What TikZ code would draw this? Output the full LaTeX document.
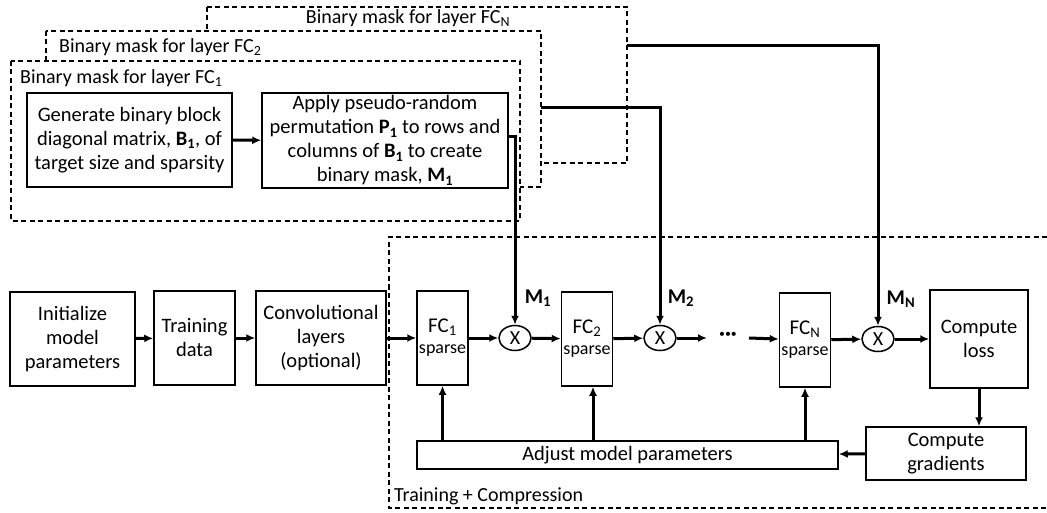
\documentclass[tikz,border=0pt]{standalone}
\usepackage{fontspec}
\setmainfont{Carlito}
\usetikzlibrary{arrows.meta}
\usetikzlibrary{shapes.geometric}
\usetikzlibrary{positioning}

\tikzset{
  blk/.style={draw,line width=1.5pt,align=center,inner sep=0pt,font=\fontsize{20.5}{24}\selectfont},
  fcbox/.style={blk,minimum width=51pt,minimum height=94pt},
  mult/.style={draw,ellipse,line width=1.5pt,minimum width=32pt,minimum height=25pt,inner sep=0pt,font=\fontsize{20}{24}\selectfont},
  conn/.style={line width=3pt,-{Latex[length=9pt,width=8pt]}},
  maskbox/.style={line width=1.4pt,dash pattern=on 5pt off 3.5pt,fill=white},
  lbl/.style={inner sep=0pt,font=\fontsize{20}{23}\selectfont},
  mlbl/.style={inner sep=0pt,font=\fontsize{21}{24}\selectfont\bfseries},
}

\begin{document}
\begin{tikzpicture}[x=1pt,y=-1pt]
  \useasboundingbox (0,0) rectangle (1047,513);

  % mask generation, one dashed box per layer (back to front)
  \draw[maskbox] (207,7) rectangle (627,163);
  \node[lbl] (lbln) at (408,18) {Binary mask for layer FC\textsubscript{N}};
  \draw[maskbox] (46,31) rectangle (541,187);
  \node[lbl,anchor=west] (lbl2) at (59,47) {Binary mask for layer FC\textsubscript{2}};
  \draw[maskbox] (11,61) rectangle (520,221);
  \node[lbl,anchor=west] (lbl1) at (20,78) {Binary mask for layer FC\textsubscript{1}};

  \node[blk,minimum width=205pt,minimum height=94pt] (gen) at (129.5,140)
    {Generate binary block\\diagonal matrix, \textbf{B\textsubscript{1}}, of\\target size and sparsity};
  \node[blk,minimum width=246pt,minimum height=95pt] (apply) at (385,140.5)
    {Apply pseudo-random\\permutation \textbf{P\textsubscript{1}} to rows and\\columns of \textbf{B\textsubscript{1}} to create\\binary mask, \textbf{M\textsubscript{1}}};
  \draw[conn] (gen) -- (apply);

  \coordinate (m2) at (541,108);
  \coordinate (mn) at (627,46);

  % training + compression
  \draw[maskbox,fill=none] (1047,237) -- (389,237) -- (389,508) -- (1047,508);
  \node[lbl,anchor=west] (tclbl) at (394,496) {Training + Compression};

  \node[blk,minimum width=125pt,minimum height=94pt] (init) at (72.5,339) {Initialize\\model\\parameters};
  \node[blk,minimum width=81pt,minimum height=94pt] (data) at (194.5,338) {Training\\data};
  \node[blk,minimum width=130pt,minimum height=94pt] (conv) at (321,338) {Convolutional\\layers\\(optional)};

  \node[fcbox] (fc1) at (442.5,338) {\fontsize{21}{22}\selectfont FC\textsubscript{1}\\[-3pt]\fontsize{18}{19}\selectfont sparse};
  \node[mult] (x1) at (515,338) {X};
  \node[fcbox] (fc2) at (587,339) {\fontsize{21}{22}\selectfont FC\textsubscript{2}\\[-3pt]\fontsize{18}{19}\selectfont sparse};
  \node[mult] (x2) at (660,338) {X};
  \node[inner sep=0pt,font=\fontsize{22}{22}\selectfont\bfseries] (dots) at (728,336) {\char"00B7\char"00B7\char"00B7};
  \coordinate (d1) at (707,338);
  \coordinate (d2) at (749,338);
  \node[fcbox] (fcn) at (805,340) {\fontsize{21}{22}\selectfont FC\textsubscript{N}\\[-3pt]\fontsize{18}{19}\selectfont sparse};
  \node[mult] (xn) at (878,339) {X};
  \node[blk,minimum width=98pt,minimum height=98pt] (loss) at (979,339) {Compute\\loss};
  \node[blk,minimum width=160pt,minimum height=53pt] (grad) at (946,453.5) {Compute\\gradients};
  \node[blk,minimum width=421pt,minimum height=28pt] (adjust) at (627.5,455) {Adjust model parameters};

  \node[mlbl] (m1lbl) at (538,298) {M\textsubscript{1}};
  \node[mlbl] (m2lbl) at (681,298) {M\textsubscript{2}};
  \node[mlbl] (mnlbl) at (901,299) {M\textsubscript{N}};

  \draw[conn] (init) -- (data);
  \draw[conn] (data) -- (conv);
  \draw[conn] (conv) -- (fc1);
  \draw[conn] (fc1) -- (x1);
  \draw[conn] (x1) -- (fc2);
  \draw[conn] (fc2) -- (x2);
  \draw[conn] (x2) -- (d1);
  \draw[conn] (d2) -- (fcn);
  \draw[conn] (fcn) -- (xn);
  \draw[conn] (xn) -- (loss);

  % masks into the multipliers
  \draw[conn] ([yshift=3.5pt]apply.east) -| (x1.north);
  \draw[conn] (m2) -| (x2.north);
  \draw[conn] (mn) -| (xn.north);

  % feedback
  \draw[conn] (loss) -- (loss.south |- grad.north);
  \draw[conn] (grad) -- (adjust);
  \draw[conn] (adjust.north -| fc1.south) -- (fc1.south);
  \draw[conn] ([xshift=6pt]adjust.north -| fc2.south) -- ([xshift=6pt]fc2.south);
  \draw[conn] (adjust.north -| fcn.south) -- (fcn.south);
\end{tikzpicture}
\end{document}
